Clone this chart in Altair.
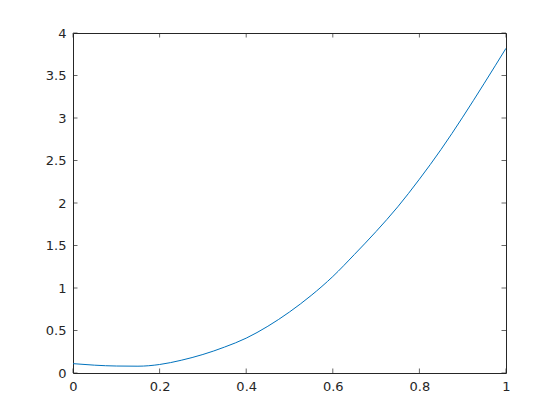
import altair as alt
import pandas as pd

# Curve values
x_vals = [0.0, 0.05, 0.1, 0.15, 0.2, 0.25, 0.3, 0.35, 0.4, 0.45, 0.5,
          0.55, 0.6, 0.65, 0.7, 0.75, 0.8, 0.85, 0.9, 0.95, 1.0]
y_vals = [0.11, 0.092, 0.082, 0.08, 0.10, 0.15, 0.218, 0.305, 0.41, 0.55, 0.718,
          0.912, 1.135, 1.395, 1.665, 1.955, 2.28, 2.63, 3.01, 3.41, 3.82]

x_ticks = [0, 0.2, 0.4, 0.6, 0.8, 1]
y_ticks = [0, 0.5, 1, 1.5, 2, 2.5, 3, 3.5, 4]

W, H = 433, 340
TL = 4.5
AX = "#262626"

curve = pd.DataFrame({"x": x_vals, "y": y_vals})
xt = pd.DataFrame({"x": x_ticks})
yt = pd.DataFrame({"y": y_ticks})

xscale = alt.Scale(domain=[0, 1], nice=False, zero=False)
yscale = alt.Scale(domain=[0, 4], nice=False, zero=False)

common_axis = dict(domain=False, ticks=False, grid=False, labelColor=AX,
                   labelFont="DejaVu Sans", labelFontSize=13, labelPadding=7,
                   labelFlush=False, labelOverlap=False,
                   title=None, format="~g")
xaxis = alt.Axis(values=x_ticks, **common_axis)
yaxis = alt.Axis(values=y_ticks, **common_axis)

line = alt.Chart(curve).mark_line(color="#0072BD", strokeWidth=1, clip=True,
                                  interpolate="monotone").encode(
    x=alt.X("x:Q", scale=xscale, axis=xaxis),
    y=alt.Y("y:Q", scale=yscale, axis=yaxis),
)

xt_bottom = alt.Chart(xt).mark_tick(orient="vertical", color=AX, size=TL, thickness=1).encode(
    x=alt.X("x:Q", scale=xscale, axis=xaxis), y=alt.value(H - TL / 2))
xt_top = alt.Chart(xt).mark_tick(orient="vertical", color=AX, size=TL, thickness=1).encode(
    x=alt.X("x:Q", scale=xscale, axis=xaxis), y=alt.value(TL / 2))
yt_left = alt.Chart(yt).mark_tick(orient="horizontal", color=AX, size=TL, thickness=1).encode(
    y=alt.Y("y:Q", scale=yscale, axis=yaxis), x=alt.value(TL / 2))
yt_right = alt.Chart(yt).mark_tick(orient="horizontal", color=AX, size=TL, thickness=1).encode(
    y=alt.Y("y:Q", scale=yscale, axis=yaxis), x=alt.value(W - TL / 2))

chart = alt.layer(line, xt_bottom, xt_top, yt_left, yt_right).properties(
    width=W, height=H,
    autosize=alt.AutoSizeParams(type="none"),
    padding={"left": 65, "top": 25, "right": 45, "bottom": 40},
).configure(background="white").configure_view(stroke=AX, strokeWidth=1)

chart.save("out.html", embed_options={"renderer": "svg", "actions": False})
